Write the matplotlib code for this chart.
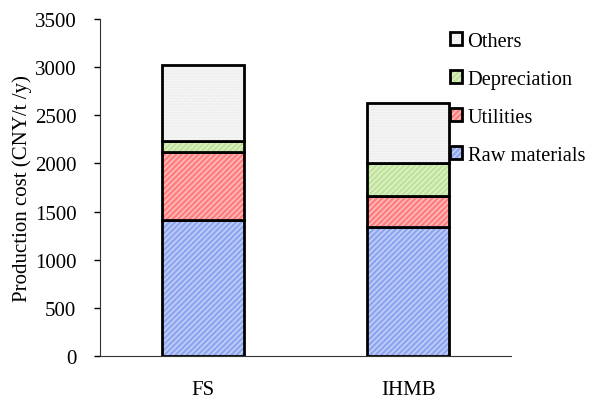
import matplotlib
matplotlib.use("Agg")
import matplotlib.pyplot as plt
import numpy as np
from matplotlib.patches import Patch

plt.rcParams['font.family'] = ['Liberation Serif', 'DejaVu Serif']

processes = ['FS', 'IHMB']
raw_materials = [1415, 1335]
utilities = [700, 330]
depreciation = [120, 335]
others = [785, 625]

series = [
    ('Raw materials', raw_materials, '#8fa6f0', '#c9d4f8', '//////'),
    ('Utilities', utilities, '#ff7f7f', '#ffc4c4', '//////'),
    ('Depreciation', depreciation, '#bfe39a', '#e2f2cf', '//////'),
    ('Others', others, '#eeeeee', '#fafafa', '......'),
]

fig = plt.figure(figsize=(5.9, 4.02), dpi=100)
ax = fig.add_axes([100 / 590, 45 / 402, 411 / 590, 337 / 402])

x = np.arange(len(processes))
w = 0.4
bottom = np.zeros(len(processes))
handles = []
for name, vals, fc, hc, hatch in series:
    vals = np.array(vals, dtype=float)
    # hatched fill first, then black outline on top
    ax.bar(x, vals, w, bottom=bottom, color=fc, edgecolor=hc, hatch=hatch, linewidth=0)
    ax.bar(x, vals, w, bottom=bottom, fill=False, edgecolor='black', linewidth=2)
    fill = Patch(facecolor=fc, edgecolor=hc, hatch=hatch, linewidth=0)
    edge = Patch(fill=False, edgecolor='black', linewidth=2)
    handles.append((fill, edge))
    bottom += vals

ax.set_xlim(-0.5, 1.5)
ax.set_ylim(0, 3500)
ax.set_yticks(range(0, 3501, 500))
ax.set_xticks(x)
ax.set_xticklabels(processes)
ax.tick_params(axis='x', length=0, pad=17, labelsize=15)
ax.tick_params(axis='y', direction='out', length=4, labelsize=15, width=1, pad=13)
ax.spines['top'].set_visible(False)
ax.spines['right'].set_visible(False)
ax.spines['left'].set_color('#333333')
ax.spines['bottom'].set_color('#333333')
ax.set_ylabel('Production cost (CNY/t /y)', fontsize=15, labelpad=2)

labels = [s[0] for s in series]
fig.legend(handles=handles[::-1], labels=labels[::-1], loc='upper left',
           bbox_to_anchor=(442 / 590, 1 - 25 / 402),
           frameon=False, fontsize=14.7, handlelength=0.6, handleheight=0.6,
           handletextpad=0.25, labelspacing=0.92, borderaxespad=0)

fig.savefig('out.png', dpi=100)
